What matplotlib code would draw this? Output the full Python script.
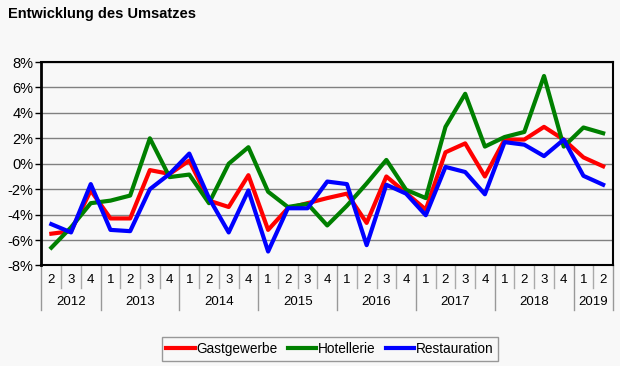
import matplotlib
matplotlib.use("Agg")
import matplotlib.pyplot as plt
import matplotlib.transforms as mtransforms
from matplotlib.ticker import FuncFormatter

years = ["2012", "2013", "2014", "2015", "2016", "2017", "2018", "2019"]
quarters_per_year = [[2, 3, 4], [1, 2, 3, 4], [1, 2, 3, 4], [1, 2, 3, 4],
                     [1, 2, 3, 4], [1, 2, 3, 4], [1, 2, 3, 4], [1, 2]]

gastgewerbe = [-5.5, -5.3, -2.1,
               -4.3, -4.3, -0.5, -0.8,
               0.25, -2.9, -3.4, -0.9,
               -5.2, -3.5, -3.1, -2.7,
               -2.35, -4.65, -1.0, -2.3,
               -3.6, 0.9, 1.6, -1.0,
               1.9, 1.9, 2.9, 1.9,
               0.5, -0.2]
hotellerie = [-6.6, -5.0, -3.1,
              -2.9, -2.5, 2.0, -1.05,
              -0.85, -3.1, 0.0, 1.3,
              -2.2, -3.4, -3.15, -4.85,
              -3.3, -1.55, 0.3, -2.05,
              -2.7, 2.9, 5.5, 1.35,
              2.1, 2.5, 6.9, 1.35,
              2.85, 2.4]
restauration = [-4.75, -5.4, -1.6,
                -5.2, -5.3, -2.0, -0.8,
                0.8, -2.7, -5.4, -2.1,
                -6.9, -3.5, -3.5, -1.4,
                -1.6, -6.4, -1.65, -2.35,
                -4.05, -0.25, -0.65, -2.4,
                1.7, 1.5, 0.6, 1.9,
                -0.95, -1.65]

BG = "#f8f8f8"
plt.rcParams["font.family"] = ["Liberation Sans", "DejaVu Sans"]

fig = plt.figure(figsize=(6.2, 3.66), dpi=100)
fig.patch.set_facecolor(BG)
ax = fig.add_axes([0.0669, 0.2746, 0.9218, 0.556])
ax.set_facecolor(BG)

x = list(range(len(gastgewerbe)))
ax.plot(x, gastgewerbe, color="#ff0000", lw=3, label="Gastgewerbe", zorder=3)
ax.plot(x, hotellerie, color="#008000", lw=3, label="Hotellerie", zorder=3)
ax.plot(x, restauration, color="#0000ff", lw=3, label="Restauration", zorder=3)

ax.set_xlim(-0.5, len(x) - 0.5)
ax.set_ylim(-8, 8)
ax.set_yticks(range(-8, 9, 2))
ax.yaxis.set_major_formatter(FuncFormatter(lambda v, p: f"{int(v)}%"))
ax.tick_params(axis="y", direction="out", length=4, width=1,
               labelsize=10.5, pad=2, colors="black")
ax.set_xticks([])
ax.grid(axis="y", color="#808080", lw=1)
for s in ax.spines.values():
    s.set_color("black")
    s.set_linewidth(1.5)
ax.spines["left"].set_linewidth(2)

# category table below the axis
trans = mtransforms.blended_transform_factory(ax.transData, ax.transAxes)
q_bottom, y_bottom = -0.11, -0.219
idx = 0
for yr, qs in zip(years, quarters_per_year):
    start = idx
    ax.plot([start - 0.5, start - 0.5], [0, y_bottom], transform=trans,
            color="#999999", lw=1, clip_on=False)
    for q in qs:
        if idx != start:
            ax.plot([idx - 0.5, idx - 0.5], [0, q_bottom], transform=trans,
                    color="#aaaaaa", lw=1, clip_on=False)
        ax.text(idx, -0.072, str(q), transform=trans, ha="center",
                va="center", fontsize=9.5)
        idx += 1
    ax.text((start + idx - 1) / 2, -0.179, yr, transform=trans,
            ha="center", va="center", fontsize=9.5)
ax.plot([idx - 0.5, idx - 0.5], [0, y_bottom], transform=trans,
        color="#999999", lw=1, clip_on=False)

fig.text(0.013, 0.962, "Entwicklung des Umsatzes", fontsize=10.5,
         fontweight="bold", ha="left", va="center")

leg = fig.legend(loc="center", bbox_to_anchor=(0.532, 0.047), ncol=3,
                 fontsize=9.8, frameon=True, fancybox=False,
                 handlelength=2.1, handletextpad=0.1, columnspacing=0.75,
                 borderpad=0.35)
leg.get_frame().set_edgecolor("#808080")
leg.get_frame().set_facecolor(BG)
leg.get_frame().set_linewidth(1)

fig.savefig("out.png", dpi=100, facecolor=BG)
